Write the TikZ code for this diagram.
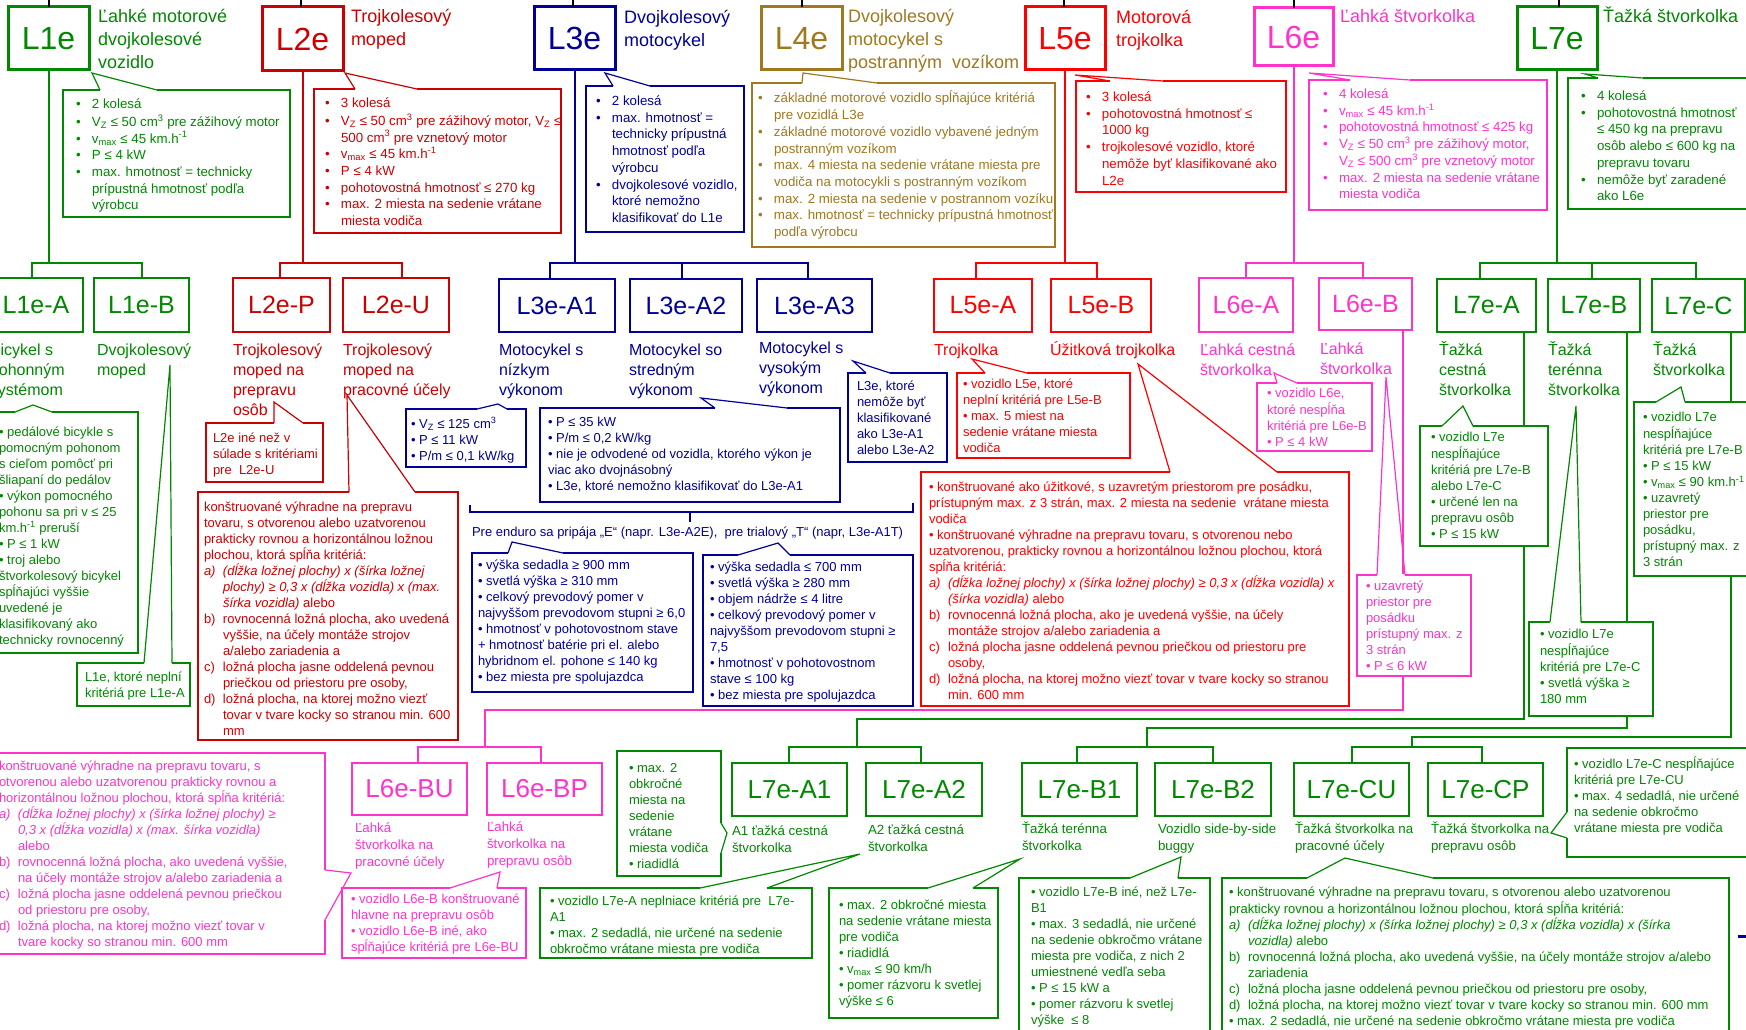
\documentclass[tikz,border=0pt]{standalone}
\usepackage{fontspec}
\setmainfont{Liberation Sans}
\usetikzlibrary{calc}
\definecolor{cg}{RGB}{0,136,0}
\definecolor{cr}{RGB}{204,0,0}
\definecolor{cb}{RGB}{0,0,153}
\definecolor{cy}{RGB}{160,120,30}
\definecolor{cR}{RGB}{255,0,0}
\definecolor{cp}{RGB}{255,51,204}
\newcommand\myb{\makebox[16pt][l]{•}}
\newcommand\myi{\makebox[16pt][l]{}}
\newcommand\myl[1]{\makebox[19pt][l]{#1}}
\newcommand\myli{\makebox[19pt][l]{}}
\newcommand\mysub[1]{\textsubscript{#1}}
\newcommand\mysup[1]{\textsuperscript{#1}}
\newcommand\bx[7]{\node[#1, anchor=north west, outer sep=0pt, minimum width={(#5)-(#3)}, minimum height={(#6)-(#4)}] (#2) at (#3,#4) {#7};}
\newcommand\ptr[5]{\fill[white] ($#2-(#5)$) rectangle ($#4+(#5)$); \draw[#1, line width=1.2pt] #2 -- #3 -- #4;}
\tikzset{
  tb/.style={draw=#1, text=#1, line width=3pt, inner sep=0pt, font=\fontsize{32}{38}\selectfont},
  sb/.style={draw=#1, text=#1, line width=2.8pt, inner sep=0pt, font=\fontsize{25}{30}\selectfont},
  qb/.style={draw=#1, text=#1, line width=2.8pt, inner sep=0pt, font=\fontsize{26}{30}\selectfont},
  co/.style={draw=#1, fill=white, line width=1.2pt, inner sep=0pt},
  cn/.style={draw=#1, line width=2pt},
  txtbase/.style={anchor=north west, inner sep=0pt, outer sep=0pt, align=left},
  hd/.style={txtbase, text=#1, font=\fontsize{18}{23}\selectfont, yshift=10.1pt},
  lb/.style={txtbase, text=#1, font=\fontsize{16}{20}\selectfont, yshift=8.7pt},
  lc/.style={txtbase, text=#1, font=\fontsize{13.3}{17}\selectfont, yshift=7.3pt},
  tx/.style={txtbase, text=#1, font=\fontsize{13.3}{16.7}\selectfont, yshift=7.1pt},
  ts/.style={txtbase, text=#1, font=\fontsize{13}{16}\selectfont, yshift=6.9pt},
}
\begin{document}
\begin{tikzpicture}[x=1pt,y=-1pt]
\useasboundingbox (0,0) rectangle (1746,1030);
\fill[white] (0,0) rectangle (1746,1030);
\clip (0,0) rectangle (1746,1030);

% ---------- top level boxes
\bx{tb=cg}{L1e}{8}{7}{89}{70}{L1e}
\bx{tb=cr}{L2e}{262}{7}{343}{71}{L2e}
\bx{tb=cb}{L3e}{534}{7}{615}{70}{L3e}
\bx{tb=cy}{L4e}{761}{7}{842}{70}{L4e}
\bx{tb=cR}{L5e}{1025}{7}{1105}{70}{L5e}
\bx{tb=cp}{L6e}{1254}{8}{1333}{66}{L6e}
\bx{tb=cg}{L7e}{1517}{7}{1597}{70}{L7e}

% stubs to the top edge
\foreach \n/\xx in {L1e/49,L2e/301,L3e/573,L4e/802,L5e/1064,L6e/1294,L7e/1559}{
  \coordinate (s\n) at (\xx,0);
  \draw[line width=2pt] (s\n) -- (\n.north -| s\n);
}

% ---------- second level
\bx{sb=cg}{L1eA}{-11}{278}{83}{332}{L1e-A}
\bx{sb=cg}{L1eB}{94}{278}{189}{332}{L1e-B}
\bx{sb=cr}{L2eP}{233}{278}{330}{332}{L2e-P}
\bx{sb=cr}{L2eU}{343}{278}{449}{332}{L2e-U}
\bx{sb=cb}{L3eA1}{499}{279}{615}{332}{L3e-A1}
\bx{sb=cb}{L3eA2}{630}{279}{742}{332}{L3e-A2}
\bx{sb=cb}{L3eA3}{757}{279}{872}{332}{L3e-A3}
\bx{sb=cR}{L5eA}{934}{279}{1032}{332}{L5e-A}
\bx{sb=cR}{L5eB}{1051}{279}{1151}{332}{L5e-B}
\bx{sb=cp}{L6eA}{1199}{278}{1293}{332}{L6e-A}
\bx{sb=cp}{L6eB}{1319}{278}{1412}{330}{L6e-B}
\bx{sb=cg}{L7eA}{1437}{279}{1536}{332}{L7e-A}
\bx{sb=cg}{L7eB}{1548}{279}{1640}{332}{L7e-B}
\bx{sb=cg}{L7eC}{1652}{279}{1745}{332}{L7e-C}

% ---------- third level
\bx{qb=cp}{L6eBU}{352}{763}{467}{815}{L6e-BU}
\bx{qb=cp}{L6eBP}{487}{763}{602}{815}{L6e-BP}
\bx{qb=cg}{L7eA1}{732}{763}{847}{816}{L7e-A1}
\bx{qb=cg}{L7eA2}{866}{763}{982}{816}{L7e-A2}
\bx{qb=cg}{L7eB1}{1022}{763}{1137}{816}{L7e-B1}
\bx{qb=cg}{L7eB2}{1155}{763}{1271}{816}{L7e-B2}
\bx{qb=cg}{L7eCU}{1294}{763}{1409}{816}{L7e-CU}
\bx{qb=cg}{L7eCP}{1428}{763}{1543}{816}{L7e-CP}

% ---------- tree connectors
\draw[cn=cg] (L1e.south) -- (L1e.south |- 0,263);
\draw[cn=cg] (L1eA.north -| 32,0) -- (32,263) -- (142,263) -- (L1eB.north -| 142,0);
\draw[cn=cr] (L2e.south) -- (L2e.south |- 0,263);
\draw[cn=cr] (L2eP.north -| 280,0) -- (280,263) -- (402,263) -- (L2eU.north -| 402,0);
\draw[cn=cb] (L3e.south) -- (L3e.south |- 0,263);
\draw[cn=cb] (L3eA1.north -| 550,0) -- (550,263) -- (808,263) -- (L3eA3.north -| 808,0);
\draw[cn=cb] (L3eA2.north -| 682,0) -- (682,263);
\draw[cn=cR] (L5e.south) -- (L5e.south |- 0,263);
\draw[cn=cR] (L5eA.north -| 976,0) -- (976,263) -- (1097,263) -- (L5eB.north -| 1097,0);
\draw[cn=cp] (L6e.south) -- (L6e.south |- 0,263);
\draw[cn=cp] (L6eA.north -| 1246,0) -- (1246,263) -- (1363,263) -- (L6eB.north -| 1363,0);
\draw[cn=cg] (L7e.south) -- (L7e.south |- 0,263);
\draw[cn=cg] (L7eA.north -| 1480,0) -- (1480,263) -- (1696,263) -- (L7eC.north -| 1696,0);
\draw[cn=cg] (L7eB.north -| 1592,0) -- (1592,263);
\draw[cn=cp] (L6eB.south -| 1403,0) -- (1403,710) -- (485,710) -- (485,747);
\draw[cn=cp] (L6eBU.north -| 418,0) -- (418,747) -- (541,747) -- (L6eBP.north -| 541,0);
\draw[cn=cg] (L7eA.south -| 1524,0) -- (1524,719) -- (857,719) -- (857,747);
\draw[cn=cg] (L7eA1.north -| 789,0) -- (789,747) -- (921,747) -- (L7eA2.north -| 921,0);
\draw[cn=cg] (L7eB.south -| 1627,0) -- (1627,728) -- (1147,728) -- (1147,747);
\draw[cn=cg] (L7eB1.north -| 1077,0) -- (1077,747) -- (1213,747) -- (L7eB2.north -| 1213,0);
\draw[cn=cg] (L7eC.south -| 1731,0) -- (1731,737) -- (1412,737) -- (1412,747);
\draw[cn=cg] (L7eCU.north -| 1352,0) -- (1352,747) -- (1482,747) -- (L7eCP.north -| 1482,0);

% enduro bracket
\coordinate (eb1) at (470,505); \coordinate (eb2) at (913,503); \coordinate (ebm) at (690,522);
\draw[cn=cb] (eb1) -- (470,512) -- (913,512) -- (eb2);
\draw[cn=cb] (ebm) -- (ebm |- 0,512);
\coordinate (nd1) at (1738,936); \coordinate (nd2) at (1747,936);
\draw[cn=cb, line width=3pt] (nd1) -- (nd2);

% ---------- callout boxes
\bx{co=cg}{cL1e}{63}{90}{290}{217}{}
\bx{co=cr}{cL2e}{314}{89}{561}{233}{}
\bx{co=cb}{cL3e}{586}{86}{744}{232}{}
\bx{co=cy}{cL4e}{752}{83}{1055}{247}{}
\bx{co=cR}{cL5e}{1076}{81}{1286}{192}{}
\bx{co=cp}{cL6e}{1309}{80}{1547}{210}{}
\bx{co=cg}{cL7e}{1568}{78}{1760}{209}{}
\bx{co=cg}{cL1eA}{-10}{412}{138}{653}{}
\bx{co=cg}{cL1eB}{77}{663}{190}{706}{}
\bx{co=cr}{cL2eP}{206}{423}{323}{482}{}
\bx{co=cr}{cL2eU}{198}{492}{458}{740}{}
\bx{co=cb}{cL3eA1}{406}{409}{526}{467}{}
\bx{co=cb}{cL3eA2}{540}{408}{840}{502}{}
\bx{co=cb}{cL3eA3}{848}{373}{947}{462}{}
\bx{co=cb}{cEnd}{472}{553}{693}{692}{}
\bx{co=cb}{cTri}{703}{555}{913}{706}{}
\bx{co=cR}{cL5eA}{957}{373}{1130}{458}{}
\bx{co=cR}{cL5eB}{921}{472}{1349}{706}{}
\bx{co=cp}{cL6eA}{1257}{383}{1372}{451}{}
\bx{co=cp}{cL6eB}{1357}{575}{1471}{676}{}
\bx{co=cg}{cL7eA}{1420}{426}{1548}{546}{}
\bx{co=cg}{cL7eB}{1529}{622}{1653}{716}{}
\bx{co=cg}{cL7eC}{1634}{402}{1760}{576}{}
\bx{co=cp}{cBU}{-10}{753}{325}{954}{}
\bx{co=cp}{cBP}{342}{888}{526}{958}{}
\bx{co=cg}{cA1}{617}{751}{721}{876}{}
\bx{co=cg}{cA2}{540}{888}{812}{958}{}
\bx{co=cg}{cB1}{829}{888}{998}{1018}{}
\bx{co=cg}{cB2}{1019}{878}{1210}{1040}{}
\bx{co=cg}{cCU}{1222}{878}{1729}{1040}{}
\bx{co=cg}{cCP}{1567}{748}{1760}{857}{}

% ---------- pointers
\ptr{cg}{(100,90)}{(92,73)}{(157,90)}{0,1.5}
\ptr{cr}{(355,89)}{(345,73)}{(417,89)}{0,1.5}
\ptr{cb}{(613,86)}{(605,73)}{(650,86)}{0,1.5}
\ptr{cy}{(802,83)}{(803,73)}{(877,83)}{0,1.5}
\ptr{cR}{(1110,81)}{(1075,75)}{(1163,81)}{0,1.5}
\ptr{cp}{(1350,80)}{(1309,73)}{(1410,80)}{0,1.5}
\ptr{cg}{(1598,78)}{(1585,74)}{(1643,78)}{0,1.5}
\ptr{cg}{(15,412)}{(33,405)}{(52,412)}{0,1.5}
\ptr{cg}{(144,663)}{(170,365)}{(172,663)}{0,1.5}
\ptr{cr}{(274,423)}{(274,402)}{(303,423)}{0,1.5}
\ptr{cr}{(349,492)}{(347,395)}{(415,492)}{0,1.5}
\ptr{cb}{(477,409)}{(498,404)}{(507,409)}{0,1.5}
\ptr{cb}{(715,408)}{(701,398)}{(787,408)}{0,1.5}
\ptr{cb}{(866,373)}{(853,361)}{(890,373)}{0,1.5}
\ptr{cb}{(508,553)}{(512,542)}{(563,553)}{0,1.5}
\ptr{cb}{(738,555)}{(778,543)}{(790,555)}{0,1.5}
\ptr{cR}{(985,373)}{(972,359)}{(1027,373)}{0,1.5}
\ptr{cR}{(1170,472)}{(1138,364)}{(1277,472)}{0,1.5}
\ptr{cp}{(1277,383)}{(1274,373)}{(1297,383)}{0,1.5}
\ptr{cp}{(1377,575)}{(1386,377)}{(1405,575)}{0,1.5}
\ptr{cg}{(1442,426)}{(1463,406)}{(1473,426)}{0,1.5}
\ptr{cg}{(1550,622)}{(1576,406)}{(1581,622)}{0,1.5}
\ptr{cg}{(1656,402)}{(1681,387)}{(1685,402)}{0,1.5}
\ptr{cp}{(325,870)}{(351,873)}{(325,920)}{1.5,0}
\ptr{cp}{(450,888)}{(500,872)}{(497,888)}{0,1.5}
\ptr{cg}{(721,823)}{(727,833)}{(721,853)}{1.5,0}
\ptr{cg}{(700,888)}{(860,854)}{(767,888)}{0,1.5}
\ptr{cg}{(928,888)}{(1020,859)}{(973,888)}{0,1.5}
\ptr{cg}{(1130,878)}{(1181,857)}{(1178,878)}{0,1.5}
\ptr{cg}{(1307,878)}{(1345,858)}{(1433,878)}{0,1.5}
\ptr{cg}{(1567,812)}{(1551,833)}{(1567,838)}{1.5,0}

% ---------- top descriptions
\node[hd=cg] (d1) at (98,17) {\strut Ľahké motorové\\dvojkolesové\\vozidlo};
\node[hd=cr] (d2) at (351,17) {\strut Trojkolesový\\moped};
\node[hd=cb] (d3) at (624,17.5) {\strut Dvojkolesový\\motocykel};
\node[hd=cy] (d4) at (848,17) {\strut Dvojkolesový\\motocykel s\\postranným\ \ vozíkom};
\node[hd=cR] (d5) at (1116,18) {\strut Motorová\\trojkolka};
\node[hd=cp] (d6) at (1340,17) {\strut Ľahká štvorkolka};
\node[hd=cg] (d7) at (1603,17) {\strut Ťažká štvorkolka};

% ---------- top callout texts
\node[tx=cg] (t1) at (76,104) {\strut\myb 2 kolesá\\
\myb V\mysub{Z} ≤ 50 cm\mysup{3} pre zážihový motor\\
\myb v\mysub{max} ≤ 45 km.h\mysup{-1}\\
\myb P ≤ 4 kW\\
\myb max. hmotnosť = technicky\\
\myi prípustná hmotnosť podľa\\
\myi výrobcu};
\node[tx=cr] (t2) at (325,103) {\strut\myb 3 kolesá\\
\myb V\mysub{Z} ≤ 50 cm\mysup{3} pre zážihový motor, V\mysub{Z} ≤\\
\myi 500 cm\mysup{3} pre vznetový motor\\
\myb v\mysub{max} ≤ 45 km.h\mysup{-1}\\
\myb P ≤ 4 kW\\
\myb pohotovostná hmotnosť ≤ 270 kg\\
\myb max. 2 miesta na sedenie vrátane\\
\myi miesta vodiča};
\node[tx=cb] (t3) at (596,101) {\strut\myb 2 kolesá\\
\myb max. hmotnosť =\\
\myi technicky prípustná\\
\myi hmotnosť podľa\\
\myi výrobcu\\
\myb dvojkolesové vozidlo,\\
\myi ktoré nemožno\\
\myi klasifikovať do L1e};
\node[tx=cy] (t4) at (758,98) {\strut\myb základné motorové vozidlo spĺňajúce kritériá\\
\myi pre vozidlá L3e\\
\myb základné motorové vozidlo vybavené jedným\\
\myi postranným vozíkom\\
\myb max. 4 miesta na sedenie vrátane miesta pre\\
\myi vodiča na motocykli s postranným vozíkom\\
\myb max. 2 miesta na sedenie v postrannom vozíku\\
\myb max. hmotnosť = technicky prípustná hmotnosť\\
\myi podľa výrobcu};
\node[tx=cR] (t5) at (1086,97) {\strut\myb 3 kolesá\\
\myb pohotovostná hmotnosť ≤\\
\myi 1000 kg\\
\myb trojkolesové vozidlo, ktoré\\
\myi nemôže byť klasifikované ako\\
\myi L2e};
\node[tx=cp] (t6) at (1323,94) {\strut\myb 4 kolesá\\
\myb v\mysub{max} ≤ 45 km.h\mysup{-1}\\
\myb pohotovostná hmotnosť ≤ 425 kg\\
\myb V\mysub{Z} ≤ 50 cm\mysup{3} pre zážihový motor,\\
\myi V\mysub{Z} ≤ 500 cm\mysup{3} pre vznetový motor\\
\myb max. 2 miesta na sedenie vrátane\\
\myi miesta vodiča};
\node[tx=cg] (t7) at (1581,96) {\strut\myb 4 kolesá\\
\myb pohotovostná hmotnosť\\
\myi ≤ 450 kg na prepravu\\
\myi osôb alebo ≤ 600 kg na\\
\myi prepravu tovaru\\
\myb nemôže byť zaradené\\
\myi ako L6e};

% ---------- second level labels
\node[lb=cg] (n1) at (-10,350) {\strut Bicykel s\\pohonným\\systémom};
\node[lb=cg] (n2) at (97,350) {\strut Dvojkolesový\\moped};
\node[lb=cr] (n3) at (233,350) {\strut Trojkolesový\\moped na\\prepravu\\osôb};
\node[lb=cr] (n4) at (343,350) {\strut Trojkolesový\\moped na\\pracovné účely};
\node[lb=cb] (n5) at (499,350) {\strut Motocykel s\\nízkym\\výkonom};
\node[lb=cb] (n6) at (629,350) {\strut Motocykel so\\stredným\\výkonom};
\node[lb=cb] (n7) at (759,348) {\strut Motocykel s\\vysokým\\výkonom};
\node[lb=cR] (n8) at (934,350) {\strut Trojkolka};
\node[lb=cR] (n9) at (1050,350) {\strut Úžitková trojkolka};
\node[lb=cp] (n10) at (1200,350) {\strut Ľahká cestná\\štvorkolka};
\node[lb=cp] (n11) at (1320,349) {\strut Ľahká\\štvorkolka};
\node[lb=cg] (n12) at (1439,350) {\strut Ťažká\\cestná\\štvorkolka};
\node[lb=cg] (n13) at (1548,350) {\strut Ťažká\\terénna\\štvorkolka};
\node[lb=cg] (n14) at (1653,350) {\strut Ťažká\\štvorkolka};

% ---------- third level labels
\node[lc=cp] (m1) at (355,828) {\strut Ľahká\\štvorkolka na\\pracovné účely};
\node[lc=cp] (m2) at (487,827) {\strut Ľahká\\štvorkolka na\\prepravu osôb};
\node[lc=cg] (m3) at (732,831) {\strut A1 ťažká cestná\\štvorkolka};
\node[lc=cg] (m4) at (868,830) {\strut A2 ťažká cestná\\štvorkolka};
\node[lc=cg] (m5) at (1022,829) {\strut Ťažká terénna\\štvorkolka};
\node[lc=cg] (m6) at (1158,829) {\strut Vozidlo side-by-side\\buggy};
\node[lc=cg] (m7) at (1295,829) {\strut Ťažká štvorkolka na\\pracovné účely};
\node[lc=cg] (m8) at (1431,829) {\strut Ťažká štvorkolka na\\prepravu osôb};

% ---------- other callout texts
\node[ts=cg] (u1) at (-1,432) {\strut • pedálové bicykle s\\pomocným pohonom\\s cieľom pomôcť pri\\šliapaní do pedálov\\• výkon pomocného\\pohonu sa pri v ≤ 25\\km.h\mysup{-1} preruší\\• P ≤ 1 kW\\• troj alebo\\štvorkolesový bicykel\\spĺňajúci vyššie\\uvedené je\\klasifikovaný ako\\technicky rovnocenný};
\node[ts=cg] (u2) at (85,677) {\strut L1e, ktoré neplní\\kritériá pre L1e-A};
\node[ts=cr] (u3) at (213,438) {\strut L2e iné než v\\súlade s kritériami\\pre\ \ L2e-U};
\node[ts=cr] (u4) at (204,507) {\strut konštruované výhradne na prepravu\\
tovaru, s otvorenou alebo uzatvorenou\\
prakticky rovnou a horizontálnou ložnou\\
plochou, ktorá spĺňa kritériá:\\
\myl{\textit{a)}}\textit{(dĺžka ložnej plochy) x (šírka ložnej}\\
\myli\textit{plochy) ≥ 0,3 x (dĺžka vozidla) x (max.}\\
\myli\textit{šírka vozidla)} alebo\\
\myl{b)}rovnocenná ložná plocha, ako uvedená\\
\myli vyššie, na účely montáže strojov\\
\myli a/alebo zariadenia a\\
\myl{c)}ložná plocha jasne oddelená pevnou\\
\myli priečkou od priestoru pre osoby,\\
\myl{d)}ložná plocha, na ktorej možno viezť\\
\myli tovar v tvare kocky so stranou min. 600\\
\myli mm};
\node[ts=cb] (u5) at (411,424) {\strut • V\mysub{Z} ≤ 125 cm\mysup{3}\\• P ≤ 11 kW\\• P/m ≤ 0,1 kW/kg};
\node[ts=cb] (u6) at (548,422) {\strut • P ≤ 35 kW\\• P/m ≤ 0,2 kW/kg\\• nie je odvodené od vozidla, ktorého výkon je\\viac ako dvojnásobný\\• L3e, ktoré nemožno klasifikovať do L3e-A1};
\node[ts=cb] (u7) at (857,386) {\strut L3e, ktoré\\nemôže byť\\klasifikované\\ako L3e-A1\\alebo L3e-A2};
\node[ts=cb] (u8) at (472,532) {\strut Pre enduro sa pripája „E“ (napr. L3e-A2E),\ \ pre trialový „T“ (napr, L3e-A1T)};
\node[ts=cb] (u9) at (478,565) {\strut • výška sedadla ≥ 900 mm\\• svetlá výška ≥ 310 mm\\• celkový prevodový pomer v\\najvyššom prevodovom stupni ≥ 6,0\\• hmotnosť v pohotovostnom stave\\+ hmotnosť batérie pri el. alebo\\hybridnom el. pohone ≤ 140 kg\\• bez miesta pre spolujazdca};
\node[ts=cb] (u10) at (710,567) {\strut • výška sedadla ≤ 700 mm\\• svetlá výška ≥ 280 mm\\• objem nádrže ≤ 4 litre\\• celkový prevodový pomer v\\najvyššom prevodovom stupni ≥\\7,5\\• hmotnosť v pohotovostnom\\stave ≤ 100 kg\\• bez miesta pre spolujazdca};
\node[ts=cR] (u11) at (963,384) {\strut • vozidlo L5e, ktoré\\neplní kritériá pre L5e-B\\• max. 5 miest na\\sedenie vrátane miesta\\vodiča};
\node[ts=cR] (u12) at (929,487) {\strut • konštruované ako úžitkové, s uzavretým priestorom pre posádku,\\
prístupným max. z 3 strán, max. 2 miesta na sedenie\ \ vrátane miesta\\
vodiča\\
• konštruované výhradne na prepravu tovaru, s otvorenou nebo\\
uzatvorenou, prakticky rovnou a horizontálnou ložnou plochou, ktorá\\
spĺňa kritériá:\\
\myl{\textit{a)}}\textit{(dĺžka ložnej plochy) x (šírka ložnej plochy) ≥ 0,3 x (dĺžka vozidla) x}\\
\myli\textit{(šírka vozidla)} alebo\\
\myl{b)}rovnocenná ložná plocha, ako je uvedená vyššie, na účely\\
\myli montáže strojov a/alebo zariadenia a\\
\myl{c)}ložná plocha jasne oddelená pevnou priečkou od priestoru pre\\
\myli osoby,\\
\myl{d)}ložná plocha, na ktorej možno viezť tovar v tvare kocky so stranou\\
\myli min. 600 mm};
\node[ts=cp] (u13) at (1267,393) {\strut • vozidlo L6e,\\ktoré nespĺňa\\kritériá pre L6e-B\\• P ≤ 4 kW};
\node[ts=cp] (u14) at (1366,586) {\strut • uzavretý\\priestor pre\\posádku\\prístupný max. z\\3 strán\\• P ≤ 6 kW};
\node[ts=cg] (u15) at (1431,437) {\strut • vozidlo L7e\\nespĺňajúce\\kritériá pre L7e-B\\alebo L7e-C\\• určené len na\\prepravu osôb\\• P ≤ 15 kW};
\node[ts=cg] (u16) at (1540,634) {\strut • vozidlo L7e\\nespĺňajúce\\kritériá pre L7e-C\\• svetlá výška ≥\\180 mm};
\node[ts=cg] (u17) at (1643,417) {\strut • vozidlo L7e\\nespĺňajúce\\kritériá pre L7e-B\\• P ≤ 15 kW\\• v\mysub{max} ≤ 90 km.h\mysup{-1}\\• uzavretý\\priestor pre\\posádku,\\prístupný max. z\\3 strán};
\node[ts=cp] (u18) at (-1,766) {\strut konštruované výhradne na prepravu tovaru, s\\
otvorenou alebo uzatvorenou prakticky rovnou a\\
horizontálnou ložnou plochou, ktorá spĺňa kritériá:\\
\myl{\textit{a)}}\textit{(dĺžka ložnej plochy) x (šírka ložnej plochy) ≥}\\
\myli\textit{0,3 x (dĺžka vozidla) x (max. šírka vozidla)}\\
\myli alebo\\
\myl{b)}rovnocenná ložná plocha, ako uvedená vyššie,\\
\myli na účely montáže strojov a/alebo zariadenia a\\
\myl{c)}ložná plocha jasne oddelená pevnou priečkou\\
\myli od priestoru pre osoby,\\
\myl{d)}ložná plocha, na ktorej možno viezť tovar v\\
\myli tvare kocky so stranou min. 600 mm};
\node[ts=cp] (u19) at (351,899) {\strut • vozidlo L6e-B konštruované\\hlavne na prepravu osôb\\• vozidlo L6e-B iné, ako\\spĺňajúce kritériá pre L6e-BU};
\node[ts=cg] (u20) at (629,768) {\strut • max. 2\\obkročné\\miesta na\\sedenie\\vrátane\\miesta vodiča\\• riadidlá};
\node[ts=cg] (u21) at (550,901) {\strut • vozidlo L7e-A neplniace kritériá pre\ \ L7e-\\A1\\• max. 2 sedadlá, nie určené na sedenie\\obkročmo vrátane miesta pre vodiča};
\node[ts=cg] (u22) at (839,905) {\strut • max. 2 obkročné miesta\\na sedenie vrátane miesta\\pre vodiča\\• riadidlá\\• v\mysub{max} ≤ 90 km/h\\• pomer rázvoru k svetlej\\výške ≤ 6};
\node[ts=cg] (u23) at (1031,892) {\strut • vozidlo L7e-B iné, než L7e-\\B1\\• max. 3 sedadlá, nie určené\\na sedenie obkročmo vrátane\\miesta pre vodiča, z nich 2\\umiestnené vedľa seba\\• P ≤ 15 kW a\\• pomer rázvoru k svetlej\\výške\ \ ≤ 8};
\node[ts=cg] (u24) at (1229,892) {\strut • konštruované výhradne na prepravu tovaru, s otvorenou alebo uzatvorenou\\
prakticky rovnou a horizontálnou ložnou plochou, ktorá spĺňa kritériá:\\
\myl{\textit{a)}}\textit{(dĺžka ložnej plochy) x (šírka ložnej plochy) ≥ 0,3 x (dĺžka vozidla) x (šírka}\\
\myli\textit{vozidla)} alebo\\
\myl{b)}rovnocenná ložná plocha, ako uvedená vyššie, na účely montáže strojov a/alebo\\
\myli zariadenia\\
\myl{c)}ložná plocha jasne oddelená pevnou priečkou od priestoru pre osoby,\\
\myl{d)}ložná plocha, na ktorej možno viezť tovar v tvare kocky so stranou min. 600 mm\\
• max. 2 sedadlá, nie určené na sedenie obkročmo vrátane miesta pre vodiča};
\node[ts=cg] (u25) at (1574,764) {\strut • vozidlo L7e-C nespĺňajúce\\kritériá pre L7e-CU\\• max. 4 sedadlá, nie určené\\na sedenie obkročmo\\vrátane miesta pre vodiča};
\end{tikzpicture}
\end{document}
